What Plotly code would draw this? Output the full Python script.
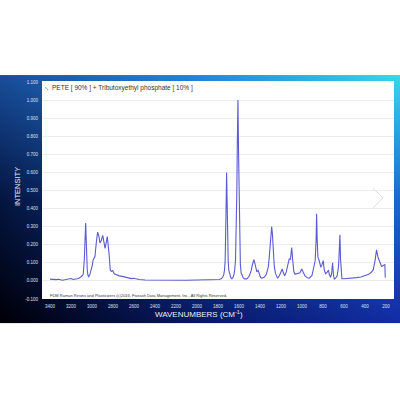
import base64
import struct
import zlib

import numpy as np
import plotly.graph_objects as go

# spectrum (wavenumber in cm-1, intensity)
wavenumbers = [
    3400, 3380, 3360, 3340, 3320, 3300, 3280, 3260, 3240, 3220, 3200, 3180, 3160, 3140,
    3120, 3100, 3090, 3083, 3073, 3066, 3060, 3055, 3051, 3045, 3038, 3032, 3020, 3010,
    2998, 2988, 2972, 2956, 2946, 2934, 2924, 2910, 2898, 2886, 2876, 2864, 2854, 2838,
    2826, 2815, 2803, 2788, 2765, 2740, 2711, 2680, 2650, 2625, 2607, 2580, 2550, 2495,
    2400, 2300, 2200, 2100, 2000, 1900, 1820, 1790, 1770, 1755, 1745, 1738, 1732, 1727,
    1723, 1718, 1713, 1709, 1703, 1697, 1688, 1678, 1668, 1658, 1648, 1640, 1633, 1627,
    1621, 1616, 1610, 1604, 1599, 1593, 1587, 1580, 1570, 1558, 1540, 1520, 1500, 1485,
    1470, 1458, 1448, 1440, 1430, 1418, 1408, 1395, 1384, 1360, 1340, 1320, 1305, 1295,
    1289, 1282, 1274, 1264, 1252, 1240, 1232, 1215, 1200, 1188, 1178, 1165, 1150, 1135,
    1122, 1110, 1098, 1088, 1078, 1067, 1050, 1036, 1020, 1003, 988, 972, 950, 930,
    905, 887, 875, 866, 861, 855, 848, 839, 830, 820, 810, 798, 788, 775, 760,
    748, 740, 728, 718, 709, 700, 692, 680, 665, 652, 645, 639, 633, 626, 620,
    600, 560, 520, 480, 440, 400, 370, 345, 322, 306, 290, 275, 258, 242, 227,
    211, 207,
]
intensity = [
    0.010, 0.008, 0.010, 0.007, 0.009, 0.005, 0.004, 0.006, 0.008, 0.010, 0.013, 0.008, 0.009, 0.012,
    0.016, 0.025, 0.030, 0.040, 0.117, 0.230, 0.320, 0.230, 0.117, 0.060, 0.030, 0.024, 0.035, 0.052,
    0.085, 0.117, 0.135, 0.228, 0.270, 0.246, 0.210, 0.225, 0.252, 0.215, 0.180, 0.215, 0.245, 0.154,
    0.060, 0.052, 0.057, 0.039, 0.033, 0.028, 0.025, 0.020, 0.016, 0.013, 0.015, 0.011, 0.008, 0.005,
    0.004, 0.005, 0.004, 0.004, 0.005, 0.005, 0.006, 0.008, 0.012, 0.020, 0.035, 0.060, 0.110, 0.220,
    0.400, 0.600, 0.400, 0.220, 0.110, 0.060, 0.030, 0.018, 0.012, 0.018, 0.035, 0.065, 0.120, 0.240,
    0.480, 0.760, 1.000, 0.700, 0.400, 0.180, 0.090, 0.045, 0.025, 0.015, 0.010, 0.013, 0.030, 0.055,
    0.095, 0.117, 0.095, 0.065, 0.050, 0.058, 0.040, 0.020, 0.015, 0.020, 0.035, 0.080, 0.180, 0.280,
    0.300, 0.260, 0.160, 0.080, 0.040, 0.020, 0.015, 0.030, 0.055, 0.066, 0.045, 0.028, 0.050, 0.100,
    0.122, 0.120, 0.185, 0.110, 0.052, 0.037, 0.040, 0.039, 0.045, 0.066, 0.045, 0.028, 0.018, 0.015,
    0.030, 0.070, 0.110, 0.220, 0.372, 0.220, 0.130, 0.117, 0.095, 0.075, 0.090, 0.112, 0.060, 0.040, 0.048,
    0.060, 0.035, 0.020, 0.040, 0.100, 0.030, 0.010, 0.015, 0.030, 0.080, 0.150, 0.255, 0.120, 0.030, 0.012,
    0.012, 0.013, 0.015, 0.018, 0.022, 0.028, 0.035, 0.045, 0.061, 0.107, 0.172, 0.128, 0.100, 0.080, 0.085,
    0.090, 0.018,
]

spectrum_name = "PETE [ 90% ] + Tributoxyethyl phosphate [ 10% ]"
footer = "FDM Raman Resins and Plasticizers (c)2016, Fiveash Data Management, Inc., All Rights Reserved."
x_ticks = [3400, 3200, 3000, 2800, 2600, 2400, 2200, 2000, 1800, 1600, 1400, 1200, 1000, 800, 600, 400, 200]
y_ticks = [-0.1, 0.0, 0.1, 0.2, 0.3, 0.4, 0.5, 0.6, 0.7, 0.8, 0.9, 1.0, 1.1]

FONT = "Liberation Sans, Arial, sans-serif"


def gradient_png():
    # blue backdrop: bilinear blend of a 3x3 colour grid
    grid = np.array([
        [[25, 78, 155], [35, 135, 220], [55, 215, 235]],
        [[5, 22, 65], [20, 70, 170], [30, 105, 205]],
        [[0, 0, 8], [8, 25, 100], [18, 45, 165]],
    ], dtype=float)
    h, w = 124, 200
    ys = np.linspace(0, 2, h)
    xs = np.linspace(0, 2, w)
    img = np.zeros((h, w, 3))
    for i, yy in enumerate(ys):
        r0 = min(int(yy), 1)
        fy = yy - r0
        row = grid[r0] * (1 - fy) + grid[r0 + 1] * fy
        for j, xx in enumerate(xs):
            c0 = min(int(xx), 1)
            fx = xx - c0
            img[i, j] = row[c0] * (1 - fx) + row[c0 + 1] * fx
    px = img.clip(0, 255).astype(np.uint8)
    raw = b"".join(b"\x00" + px[r].tobytes() for r in range(h))

    def chunk(tag, data):
        out = struct.pack(">I", len(data)) + tag + data
        return out + struct.pack(">I", zlib.crc32(tag + data) & 0xFFFFFFFF)

    png = (b"\x89PNG\r\n\x1a\n"
           + chunk(b"IHDR", struct.pack(">IIBBBBB", w, h, 8, 2, 0, 0, 0))
           + chunk(b"IDAT", zlib.compress(raw))
           + chunk(b"IEND", b""))
    return "data:image/png;base64," + base64.b64encode(png).decode()


fig = go.Figure()
fig.add_trace(go.Scatter(
    x=wavenumbers, y=intensity, mode="lines",
    line=dict(color="#5b5bd2", width=1.1),
    name=spectrum_name, showlegend=False, hoverinfo="skip",
))

fig.add_layout_image(dict(
    source=gradient_png(), xref="paper", yref="paper",
    x=-0.1193, y=1.032, sizex=1.137, sizey=1.143,
    xanchor="left", yanchor="top", sizing="stretch", layer="below",
))
fig.add_shape(type="rect", xref="paper", yref="paper", x0=0, x1=1, y0=0, y1=1.005,
              fillcolor="white", line_width=0, layer="below")
# small legend glyph and the faint chevron
fig.add_shape(type="line", xref="paper", yref="paper", x0=0.009, x1=0.018, y0=0.978, y1=0.962,
              line=dict(color="#999999", width=1))
fig.add_shape(type="path", xref="paper", yref="paper",
              path="M 0.940 0.5115 L 0.969 0.465 L 0.940 0.419",
              line=dict(color="#e0e0e0", width=1))

fig.add_annotation(text=spectrum_name, xref="paper", yref="paper", x=0.022, y=0.972,
                   xanchor="left", yanchor="middle", showarrow=False,
                   font=dict(family=FONT, size=6.5, color="#333333"))
fig.add_annotation(text=footer, xref="paper", yref="paper", x=0.017, y=0.018,
                   xanchor="left", yanchor="middle", showarrow=False,
                   font=dict(family=FONT, size=4, color="#333333"))
fig.add_annotation(text="WAVENUMBERS (CM<sup>-1</sup>)", xref="paper", yref="paper",
                   x=0.446, y=-0.069, xanchor="center", yanchor="middle", showarrow=False,
                   font=dict(family=FONT, size=8, color="#e8eef8"))
fig.add_annotation(text="INTENSITY", xref="paper", yref="paper", x=-0.071, y=0.516,
                   textangle=-90, xanchor="center", yanchor="middle", showarrow=False,
                   font=dict(family=FONT, size=7.5, color="#e8eef8"))

fig.update_xaxes(
    range=[3476, 124], tickvals=x_ticks, ticktext=[str(v) for v in x_ticks],
    showgrid=False, zeroline=False, showline=False,
    ticks="outside", ticklen=3, tickcolor="rgba(0,0,0,0)",
    tickfont=dict(family=FONT, size=4.5, color="#d8e2f4"),
)
fig.update_yaxes(
    range=[-0.1, 1.1], tickvals=y_ticks, ticktext=[f"{v:.3f}" for v in y_ticks],
    showgrid=True, gridcolor="#ececec", gridwidth=1, zeroline=False, showline=False,
    ticks="outside", ticklen=2, tickcolor="rgba(0,0,0,0)",
    tickfont=dict(family=FONT, size=4.5, color="#d8e2f4"),
)
fig.update_layout(
    width=400, height=400,
    margin=dict(l=42, r=6, t=82, b=101),
    paper_bgcolor="white", plot_bgcolor="rgba(0,0,0,0)",
)

# the page's default body margin would shift the figure by 8px
fig.write_html("out.html", config={"displayModeBar": False},
               post_script="document.body.style.margin='0';")
